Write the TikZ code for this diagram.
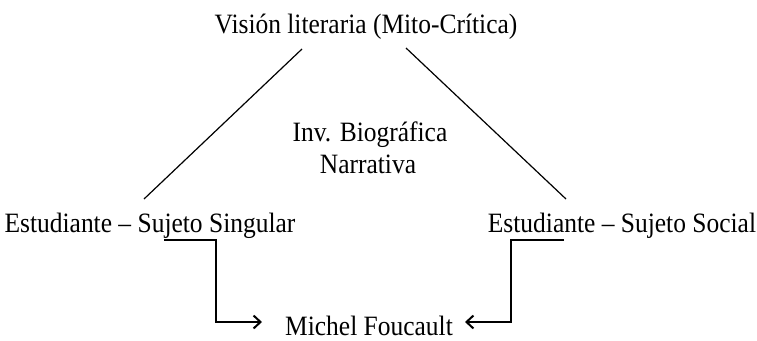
\documentclass[tikz,border=0pt]{standalone}
\usepackage{fontspec}
\setmainfont{Liberation Serif}[FakeStretch=0.91]
\usetikzlibrary{arrows.meta,calc}

\begin{document}
\begin{tikzpicture}[x=1pt,y=-1pt,
    lbl/.style={anchor=base,inner sep=0pt,font=\fontsize{28}{34}\selectfont},
    diag/.style={line width=1.2pt},
    link/.style={line width=2pt,-{Straight Barb[length=7pt,width=13pt]}}]
    \useasboundingbox (0,0) rectangle (757,340);
    % nodes
    \node[lbl] (vis) at (366,33) {Visión literaria (Mito-Crítica)};
    \node[lbl] (inv) at (370,141) {Inv. Biográfica};
    \node[lbl] (nar) at (368,173) {Narrativa};
    \node[lbl] (sing) at (150,232) {Estudiante -- Sujeto Singular};
    \node[lbl] (soc) at (622,232) {Estudiante -- Sujeto Social};
    \node[lbl] (mf) at (369,335) {Michel Foucault};
    % triangle sides
    \draw[diag] ($(vis.base)+(-64,16)$) -- ($(sing.base)+(-6,-33)$);
    \draw[diag] ($(vis.base)+(40,15)$) -- ($(soc.base)+(-56,-33)$);
    % elbows to Foucault
    \draw[link] ($(sing.base)+(14,8)$) -- ++(52,0) |- ($(mf.base)+(-107,-13)$);
    \draw[link] ($(soc.base)+(-58,8)$) -- ++(-53,0) |- ($(mf.base)+(96,-13)$);
\end{tikzpicture}
\end{document}
